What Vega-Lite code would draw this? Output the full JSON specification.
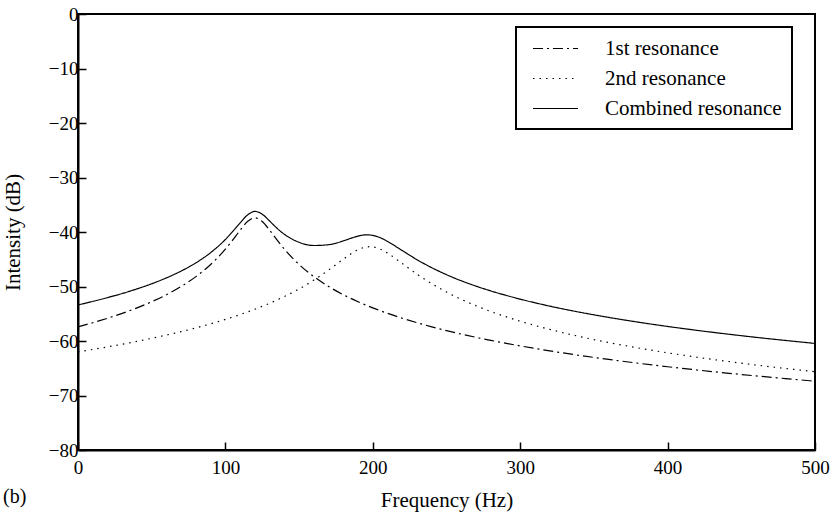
{
  "$schema": "https://vega.github.io/schema/vega-lite/v6.json",
  "width": 737,
  "height": 436,
  "autosize": "none",
  "padding": {"left": 78, "top": 14, "right": 24, "bottom": 62},
  "background": "white",
  "title": {"text": "(b)", "orient": "bottom", "anchor": "start", "frame": "group", "dx": -75, "offset": -23, "font": "Liberation Serif", "fontSize": 20, "fontWeight": "normal", "color": "black"},
  "config": {
    "font": "Liberation Serif",
    "view": {"stroke": "black", "strokeWidth": 2},
    "axis": {"grid": false, "domainColor": "black", "domainWidth": 2, "tickColor": "black", "tickWidth": 1.5, "labelColor": "black", "titleColor": "black", "labelFont": "Liberation Serif", "titleFont": "Liberation Serif", "labelFontSize": 19, "titleFontSize": 21, "titleFontWeight": "normal"}
  },
  "data": {"values": [
    {"f": 0, "v": -57.40, "s": "1st resonance"},
    {"f": 10, "v": -56.65, "s": "1st resonance"},
    {"f": 20, "v": -55.83, "s": "1st resonance"},
    {"f": 30, "v": -54.93, "s": "1st resonance"},
    {"f": 40, "v": -53.93, "s": "1st resonance"},
    {"f": 50, "v": -52.80, "s": "1st resonance"},
    {"f": 60, "v": -51.51, "s": "1st resonance"},
    {"f": 70, "v": -49.99, "s": "1st resonance"},
    {"f": 80, "v": -48.19, "s": "1st resonance"},
    {"f": 90, "v": -45.96, "s": "1st resonance"},
    {"f": 100, "v": -43.14, "s": "1st resonance"},
    {"f": 105, "v": -41.46, "s": "1st resonance"},
    {"f": 110, "v": -39.67, "s": "1st resonance"},
    {"f": 115, "v": -38.08, "s": "1st resonance"},
    {"f": 120, "v": -37.40, "s": "1st resonance"},
    {"f": 125, "v": -38.08, "s": "1st resonance"},
    {"f": 130, "v": -39.67, "s": "1st resonance"},
    {"f": 135, "v": -41.46, "s": "1st resonance"},
    {"f": 140, "v": -43.14, "s": "1st resonance"},
    {"f": 150, "v": -45.96, "s": "1st resonance"},
    {"f": 160, "v": -48.19, "s": "1st resonance"},
    {"f": 170, "v": -49.99, "s": "1st resonance"},
    {"f": 180, "v": -51.51, "s": "1st resonance"},
    {"f": 190, "v": -52.80, "s": "1st resonance"},
    {"f": 200, "v": -53.93, "s": "1st resonance"},
    {"f": 210, "v": -54.93, "s": "1st resonance"},
    {"f": 220, "v": -55.83, "s": "1st resonance"},
    {"f": 230, "v": -56.65, "s": "1st resonance"},
    {"f": 240, "v": -57.40, "s": "1st resonance"},
    {"f": 250, "v": -58.09, "s": "1st resonance"},
    {"f": 260, "v": -58.73, "s": "1st resonance"},
    {"f": 270, "v": -59.32, "s": "1st resonance"},
    {"f": 280, "v": -59.88, "s": "1st resonance"},
    {"f": 300, "v": -60.90, "s": "1st resonance"},
    {"f": 320, "v": -61.81, "s": "1st resonance"},
    {"f": 340, "v": -62.63, "s": "1st resonance"},
    {"f": 360, "v": -63.38, "s": "1st resonance"},
    {"f": 380, "v": -64.08, "s": "1st resonance"},
    {"f": 400, "v": -64.72, "s": "1st resonance"},
    {"f": 420, "v": -65.32, "s": "1st resonance"},
    {"f": 440, "v": -65.88, "s": "1st resonance"},
    {"f": 460, "v": -66.40, "s": "1st resonance"},
    {"f": 480, "v": -66.90, "s": "1st resonance"},
    {"f": 500, "v": -67.37, "s": "1st resonance"},
    {"f": 0, "v": -62.00, "s": "2nd resonance"},
    {"f": 10, "v": -61.55, "s": "2nd resonance"},
    {"f": 20, "v": -61.08, "s": "2nd resonance"},
    {"f": 30, "v": -60.59, "s": "2nd resonance"},
    {"f": 40, "v": -60.06, "s": "2nd resonance"},
    {"f": 50, "v": -59.51, "s": "2nd resonance"},
    {"f": 60, "v": -58.91, "s": "2nd resonance"},
    {"f": 70, "v": -58.28, "s": "2nd resonance"},
    {"f": 80, "v": -57.59, "s": "2nd resonance"},
    {"f": 90, "v": -56.85, "s": "2nd resonance"},
    {"f": 100, "v": -56.04, "s": "2nd resonance"},
    {"f": 110, "v": -55.15, "s": "2nd resonance"},
    {"f": 120, "v": -54.17, "s": "2nd resonance"},
    {"f": 130, "v": -53.08, "s": "2nd resonance"},
    {"f": 140, "v": -51.84, "s": "2nd resonance"},
    {"f": 150, "v": -50.44, "s": "2nd resonance"},
    {"f": 160, "v": -48.82, "s": "2nd resonance"},
    {"f": 170, "v": -46.98, "s": "2nd resonance"},
    {"f": 180, "v": -44.99, "s": "2nd resonance"},
    {"f": 185, "v": -44.04, "s": "2nd resonance"},
    {"f": 190, "v": -43.26, "s": "2nd resonance"},
    {"f": 195, "v": -42.78, "s": "2nd resonance"},
    {"f": 198, "v": -42.70, "s": "2nd resonance"},
    {"f": 200, "v": -42.74, "s": "2nd resonance"},
    {"f": 205, "v": -43.13, "s": "2nd resonance"},
    {"f": 210, "v": -43.87, "s": "2nd resonance"},
    {"f": 220, "v": -45.79, "s": "2nd resonance"},
    {"f": 230, "v": -47.74, "s": "2nd resonance"},
    {"f": 240, "v": -49.49, "s": "2nd resonance"},
    {"f": 250, "v": -51.02, "s": "2nd resonance"},
    {"f": 260, "v": -52.36, "s": "2nd resonance"},
    {"f": 270, "v": -53.53, "s": "2nd resonance"},
    {"f": 280, "v": -54.58, "s": "2nd resonance"},
    {"f": 300, "v": -56.37, "s": "2nd resonance"},
    {"f": 320, "v": -57.87, "s": "2nd resonance"},
    {"f": 340, "v": -59.16, "s": "2nd resonance"},
    {"f": 360, "v": -60.28, "s": "2nd resonance"},
    {"f": 380, "v": -61.27, "s": "2nd resonance"},
    {"f": 400, "v": -62.17, "s": "2nd resonance"},
    {"f": 420, "v": -62.98, "s": "2nd resonance"},
    {"f": 440, "v": -63.72, "s": "2nd resonance"},
    {"f": 460, "v": -64.41, "s": "2nd resonance"},
    {"f": 480, "v": -65.04, "s": "2nd resonance"},
    {"f": 500, "v": -65.63, "s": "2nd resonance"},
    {"f": 0, "v": -53.38, "s": "Combined resonance"},
    {"f": 10, "v": -52.74, "s": "Combined resonance"},
    {"f": 20, "v": -52.04, "s": "Combined resonance"},
    {"f": 30, "v": -51.29, "s": "Combined resonance"},
    {"f": 40, "v": -50.44, "s": "Combined resonance"},
    {"f": 50, "v": -49.50, "s": "Combined resonance"},
    {"f": 60, "v": -48.42, "s": "Combined resonance"},
    {"f": 70, "v": -47.16, "s": "Combined resonance"},
    {"f": 80, "v": -45.66, "s": "Combined resonance"},
    {"f": 90, "v": -43.78, "s": "Combined resonance"},
    {"f": 100, "v": -41.37, "s": "Combined resonance"},
    {"f": 105, "v": -39.90, "s": "Combined resonance"},
    {"f": 110, "v": -38.32, "s": "Combined resonance"},
    {"f": 115, "v": -36.88, "s": "Combined resonance"},
    {"f": 120, "v": -36.22, "s": "Combined resonance"},
    {"f": 125, "v": -36.74, "s": "Combined resonance"},
    {"f": 130, "v": -37.99, "s": "Combined resonance"},
    {"f": 135, "v": -39.31, "s": "Combined resonance"},
    {"f": 140, "v": -40.42, "s": "Combined resonance"},
    {"f": 150, "v": -41.89, "s": "Combined resonance"},
    {"f": 160, "v": -42.48, "s": "Combined resonance"},
    {"f": 170, "v": -42.33, "s": "Combined resonance"},
    {"f": 180, "v": -41.63, "s": "Combined resonance"},
    {"f": 185, "v": -41.17, "s": "Combined resonance"},
    {"f": 190, "v": -40.76, "s": "Combined resonance"},
    {"f": 195, "v": -40.53, "s": "Combined resonance"},
    {"f": 198, "v": -40.55, "s": "Combined resonance"},
    {"f": 200, "v": -40.62, "s": "Combined resonance"},
    {"f": 205, "v": -41.04, "s": "Combined resonance"},
    {"f": 210, "v": -41.73, "s": "Combined resonance"},
    {"f": 220, "v": -43.41, "s": "Combined resonance"},
    {"f": 230, "v": -45.08, "s": "Combined resonance"},
    {"f": 240, "v": -46.55, "s": "Combined resonance"},
    {"f": 250, "v": -47.83, "s": "Combined resonance"},
    {"f": 260, "v": -48.95, "s": "Combined resonance"},
    {"f": 270, "v": -49.93, "s": "Combined resonance"},
    {"f": 280, "v": -50.81, "s": "Combined resonance"},
    {"f": 300, "v": -52.32, "s": "Combined resonance"},
    {"f": 320, "v": -53.60, "s": "Combined resonance"},
    {"f": 340, "v": -54.70, "s": "Combined resonance"},
    {"f": 360, "v": -55.67, "s": "Combined resonance"},
    {"f": 380, "v": -56.54, "s": "Combined resonance"},
    {"f": 400, "v": -57.33, "s": "Combined resonance"},
    {"f": 420, "v": -58.05, "s": "Combined resonance"},
    {"f": 440, "v": -58.71, "s": "Combined resonance"},
    {"f": 460, "v": -59.33, "s": "Combined resonance"},
    {"f": 480, "v": -59.90, "s": "Combined resonance"},
    {"f": 500, "v": -60.44, "s": "Combined resonance"}
  ]},
  "mark": {"type": "line", "interpolate": "monotone", "color": "black", "strokeWidth": 1.2},
  "encoding": {
    "x": {"field": "f", "type": "quantitative", "title": "Frequency (Hz)",
      "scale": {"domain": [0, 500], "nice": false},
      "axis": {"values": [0, 100, 200, 300, 400, 500], "tickSize": -8, "labelPadding": 16, "titlePadding": 12, "labelFlush": false}},
    "y": {"field": "v", "type": "quantitative", "title": "Intensity (dB)",
      "scale": {"domain": [-80, 0], "nice": false},
      "axis": {"values": [-80, -70, -60, -50, -40, -30, -20, -10, 0], "tickSize": -8, "labelPadding": 8, "titlePadding": 25, "labelFlush": false}},
    "strokeDash": {"field": "s", "type": "nominal", "title": null,
      "scale": {"domain": ["1st resonance", "2nd resonance", "Combined resonance"], "range": [[10, 4, 2, 4], [1.5, 5], [1, 0]]},
      "legend": {"orient": "none", "legendX": 438, "legendY": 13, "strokeColor": "black", "padding": 10, "fillColor": "white",
        "symbolType": "M-0.43,0H3.86", "symbolSize": 441, "symbolStrokeWidth": 1.2, "symbolStrokeColor": "black",
        "labelFont": "Liberation Serif", "labelFontSize": 21, "labelColor": "black", "labelOffset": 56, "rowPadding": 8, "labelLimit": 400,
        "encode": {"legend": {"update": {"strokeWidth": {"value": 2}}}}}}
  }
}
